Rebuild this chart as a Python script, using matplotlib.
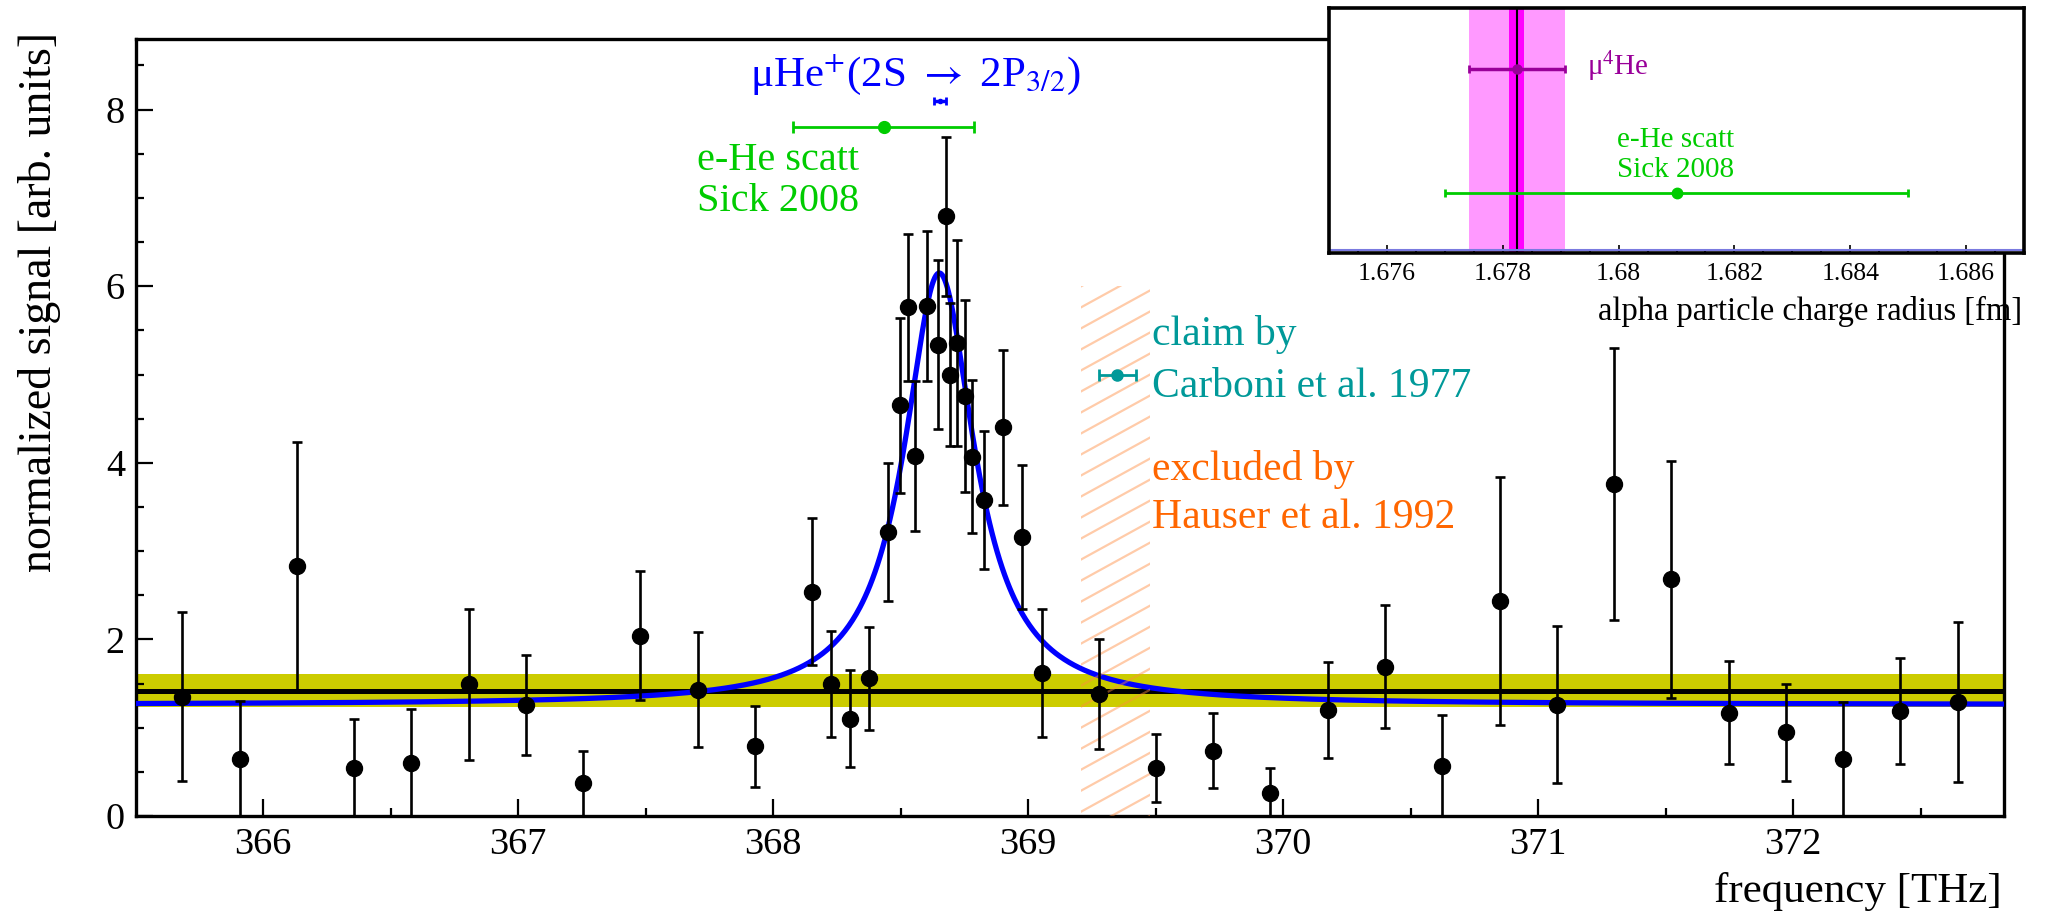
import numpy as np
import matplotlib
matplotlib.use('Agg')
import matplotlib.pyplot as plt
from matplotlib.patches import Rectangle
from matplotlib.ticker import MultipleLocator, FuncFormatter

plt.rcParams['font.family'] = ['Liberation Serif', 'DejaVu Serif']
plt.rcParams['mathtext.fontset'] = 'custom'
plt.rcParams['mathtext.rm'] = 'Liberation Serif'
plt.rcParams['mathtext.it'] = 'Liberation Serif:italic'
plt.rcParams['mathtext.bf'] = 'Liberation Serif:bold'

# laser scan: frequency [THz], normalized signal, 1 sigma error
freq = [365.684, 365.908, 366.134, 366.358, 366.582, 366.807, 367.031, 367.256,
        367.480, 367.705, 367.930, 368.154, 368.229, 368.303, 368.378, 368.452,
        368.498, 368.528, 368.557, 368.603, 368.648, 368.677, 368.694, 368.723,
        368.753, 368.782, 368.827, 368.903, 368.978, 369.054, 369.277, 369.501,
        369.725, 369.949, 370.175, 370.399, 370.624, 370.849, 371.073, 371.297,
        371.522, 371.747, 371.971, 372.196, 372.421, 372.646]
signal = [1.35, 0.65, 2.83, 0.54, 0.60, 1.49, 1.26, 0.37,
          2.04, 1.43, 0.79, 2.54, 1.50, 1.10, 1.56, 3.22,
          4.65, 5.76, 4.08, 5.78, 5.34, 6.79, 5.00, 5.36,
          4.76, 4.07, 3.58, 4.40, 3.16, 1.62, 1.38, 0.54,
          0.74, 0.26, 1.20, 1.69, 0.57, 2.43, 1.26, 3.76,
          2.68, 1.17, 0.95, 0.64, 1.19, 1.29]
sigma = [0.955, 0.65, 1.41, 0.56, 0.61, 0.86, 0.565, 0.37,
         0.73, 0.65, 0.46, 0.83, 0.60, 0.55, 0.585, 0.78,
         0.99, 0.835, 0.85, 0.85, 0.96, 0.905, 0.805, 1.165,
         1.085, 0.865, 0.78, 0.875, 0.815, 0.725, 0.62, 0.385,
         0.425, 0.28, 0.54, 0.695, 0.57, 1.405, 0.89, 1.54,
         1.34, 0.585, 0.55, 0.65, 0.60, 0.91]

# Lorentzian fit of the resonance
fit_center = 368.652
fit_fwhm = 0.336
fit_amplitude = 4.89
fit_background = 1.26

# flat (no resonance) fit with its band
flat_level = 1.42
flat_band_lo, flat_band_hi = 1.235, 1.605

# region excluded by Hauser et al. 1992
hauser_lo, hauser_hi, hauser_top = 369.206, 369.477, 6.0

# claim by Carboni et al. 1977
carboni_freq, carboni_err, carboni_y = 369.35, 0.072, 5.0

# charge radii translated to frequency
sick_freq, sick_err, sick_y = 368.434, 0.354, 7.80
muhe_freq, muhe_err, muhe_y = 368.655, 0.022, 8.10

# inset: alpha particle charge radius [fm]
r_muhe, r_muhe_exp, r_muhe_tot = 1.67824, 0.000135, 0.00083
r_sick, r_sick_err = 1.681, 0.004

W, H = 2045, 911
fig = plt.figure(figsize=(W / 100, H / 100), dpi=100)
ax = fig.add_axes([136 / W, 1 - 816 / H, (2004 - 136) / W, (816 - 39) / H])
ax.set_xlim(365.502, 372.827)
ax.set_ylim(0, 8.8)

ax.axhspan(flat_band_lo, flat_band_hi, color='#cccc00', lw=0, zorder=1)
ax.axhline(flat_level, color='black', lw=3.6, zorder=2)

xs = np.linspace(365.502, 372.827, 1500)
hw = fit_fwhm / 2
lor = fit_background + fit_amplitude / (1 + ((xs - fit_center) / hw) ** 2)
ax.plot(xs, lor, color='#0000ff', lw=3.8, zorder=3)

# slanted hatching of the excluded band, clipped to its box
box = Rectangle((hauser_lo, 0), hauser_hi - hauser_lo, hauser_top,
                fill=False, lw=0)
ax.add_patch(box)
slope = 1.587
step = 0.238
for y0 in np.arange(-slope * (hauser_hi - hauser_lo), hauser_top + step, step):
    ln, = ax.plot([hauser_lo, hauser_hi],
                  [y0, y0 + slope * (hauser_hi - hauser_lo)],
                  color='#ff8c40', alpha=0.45, lw=1.6, zorder=4)
    ln.set_clip_path(box)

ax.errorbar(freq, signal, yerr=sigma, fmt='o', color='black', ms=11.5,
            elinewidth=1.9, capsize=3.5, capthick=1.9, zorder=6)

ax.errorbar(carboni_freq, carboni_y, xerr=carboni_err, fmt='o', color='#009999',
            ms=8, elinewidth=2, capsize=4, capthick=2, zorder=6)
ax.errorbar(sick_freq, sick_y, xerr=sick_err, fmt='o', color='#00cc00',
            ms=8.5, elinewidth=2, capsize=4, capthick=2, zorder=6)
ax.errorbar(muhe_freq, muhe_y, xerr=muhe_err, fmt='o', color='#0000ff',
            ms=3, elinewidth=2.5, capsize=3, capthick=2, zorder=6)

ax.text(368.557, 8.27, r'μHe$^{+}$(2S $\rightarrow$ 2P$_{3/2}$)',
        math_fontfamily='stix', color='#0000ff',
        fontsize=31, ha='center', va='baseline')
ax.text(367.700, 7.32, 'e-He scatt', color='#00cc00', fontsize=29, va='baseline')
ax.text(367.700, 6.85, 'Sick 2008', color='#00cc00', fontsize=29, va='baseline')
ax.text(369.487, 5.33, 'claim by', color='#009999', fontsize=30, va='baseline')
ax.text(369.487, 4.75, 'Carboni et al. 1977', color='#009999', fontsize=30, va='baseline')
ax.text(369.487, 3.81, 'excluded by', color='#ff6600', fontsize=30, va='baseline')
ax.text(369.487, 3.26, 'Hauser et al. 1992', color='#ff6600', fontsize=30, va='baseline')

ax.xaxis.set_major_locator(MultipleLocator(1))
ax.xaxis.set_minor_locator(MultipleLocator(0.5))
ax.yaxis.set_major_locator(MultipleLocator(2))
ax.yaxis.set_minor_locator(MultipleLocator(0.5))
ax.tick_params(which='both', direction='in', top=False, right=False,
               width=1.6, labelsize=27.5, pad=8)
ax.tick_params(which='major', length=12)
ax.tick_params(which='minor', length=6)
for sp in ax.spines.values():
    sp.set_linewidth(2.4)

fig.text(40 / W, 1 - 31.7 / H, 'normalized signal [arb. units]', rotation=90,
         ha='center', va='top', fontsize=33)
fig.text(2002 / W, 1 - 902 / H, 'frequency [THz]', ha='right', va='baseline',
         fontsize=31)

# inset with the radius comparison
axi = fig.add_axes([1329 / W, 1 - 253 / H, (2024 - 1329) / W, (253 - 8) / H],
                   zorder=10)
axi.set_facecolor('white')
axi.set_xlim(1.675, 1.687)
axi.set_ylim(0, 1)
axi.axvspan(r_muhe - r_muhe_tot, r_muhe + r_muhe_tot, color='#ff99ff', lw=0)
axi.axvspan(r_muhe - r_muhe_exp, r_muhe + r_muhe_exp, color='#ff00ff', lw=0)
axi.axvline(r_muhe, color='black', lw=1.5)
axi.errorbar(r_muhe, 0.75, xerr=r_muhe_tot, fmt='o', color='#990099', ms=6.5,
             elinewidth=2.5, capsize=3, capthick=2)
axi.errorbar(r_sick, 0.246, xerr=r_sick_err, fmt='o', color='#00cc00', ms=7.5,
             elinewidth=2, capsize=3, capthick=2)
axi.text(1.67946, 0.727, 'μ$^{4}$He', color='#990099', fontsize=21, va='baseline')
axi.text(1.68098, 0.434, 'e-He scatt', color='#00cc00', fontsize=21,
         ha='center', va='baseline')
axi.text(1.68098, 0.311, 'Sick 2008', color='#00cc00', fontsize=21,
         ha='center', va='baseline')
axi.plot([0, 1], [0.012, 0.012], transform=axi.transAxes, color='#7a7ae0', lw=1.5)

axi.xaxis.set_major_locator(MultipleLocator(0.002))
axi.xaxis.set_minor_locator(MultipleLocator(0.0005))
axi.xaxis.set_major_formatter(FuncFormatter(lambda v, p: f'{v:.3f}'.rstrip('0')))
axi.set_yticks([])
axi.tick_params(which='both', direction='in', top=False, right=False,
                width=1.2, labelsize=18.5, pad=7)
axi.tick_params(which='major', length=6)
axi.tick_params(which='minor', length=3)
for sp in axi.spines.values():
    sp.set_linewidth(2.6)
fig.text(2022 / W, 1 - 320 / H, 'alpha particle charge radius [fm]',
         ha='right', va='baseline', fontsize=23.5)

fig.savefig('out.png', dpi=100)
